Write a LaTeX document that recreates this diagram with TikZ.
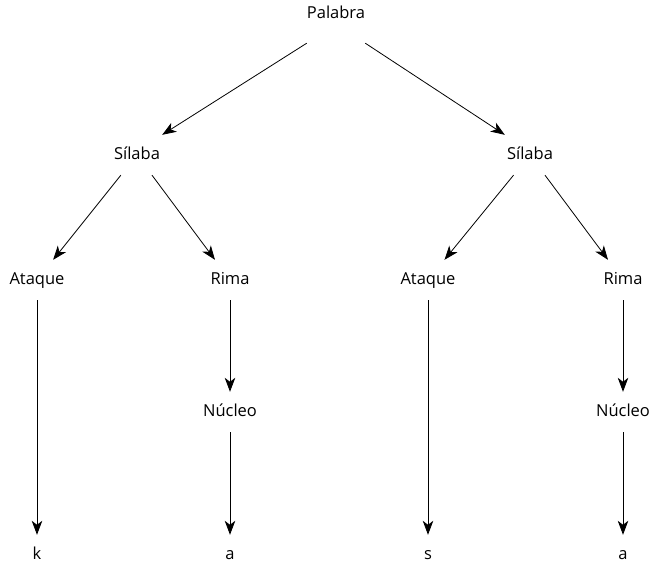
\documentclass[tikz,border=0pt]{standalone}
\usepackage{fontspec}
\setmainfont{Open Sans}
\usetikzlibrary{arrows.meta}
\begin{document}
\begin{tikzpicture}[x=1pt,y=-1pt,line join=round,
	nodo/.style={rectangle,inner sep=0pt,minimum width=50pt,minimum height=40pt,text height=12pt,text depth=3.5pt,font=\fontsize{16.5}{19}\selectfont},
	flecha/.style={-{Stealth[length=14pt,width=10.5pt,inset=4pt]},line width=0.8pt,black}]
	\useasboundingbox (0,0) rectangle (653,570);
	\path(336,14)node(pal)[nodo,minimum width=56pt,minimum height=58pt]{Palabra}%Nivel 0
	(pal)++(-199,141)node[nodo](s1){Sílaba}%Nivel 1
	(pal)++(194,141)node[nodo](s2){Sílaba}%Nivel 1
	;
	\path%Nivel 2 s1
	(s1)++(-100,125)node[nodo](s1a){Ataque}
	(s1)++(93,125)node[nodo](s1r){Rima}
	;
	\path%Nivel 2 s2
	(s2)++(-102,125)node[nodo](s2a){Ataque}
	(s2)++(93,125)node[nodo](s2r){Rima}
	;
	\path%Nivel 3
	(s1r)++(0,132)node[nodo](s1n){Núcleo}
	(s2r)++(0,132)node[nodo](s2n){Núcleo}
	;
	\path%Nivel 4
	(s1a)++(0,275)node[nodo](k){k}
	(s1n)++(0,143)node[nodo](a1){a}
	(s2a)++(0,275)node[nodo](s){s}
	(s2n)++(0,143)node[nodo](a2){a}
	;
	%Flechas
	\draw[flecha](pal.south west)--(s1.north east);
	\draw[flecha](pal.south east)--(s2.north west);
	%%%
	\draw[flecha](s1)--(s1a);
	\draw[flecha](s1)--(s1r);
	\draw[flecha](s2)--(s2a);
	\draw[flecha](s2)--(s2r);
	%%%
	\draw[flecha](s1a)--(k);
	\draw[flecha](s1r)--(s1n);
	\draw[flecha](s1n)--(a1);
	\draw[flecha](s2a)--(s);
	\draw[flecha](s2r)--(s2n);
	\draw[flecha](s2n)--(a2);
\end{tikzpicture}
\end{document}
